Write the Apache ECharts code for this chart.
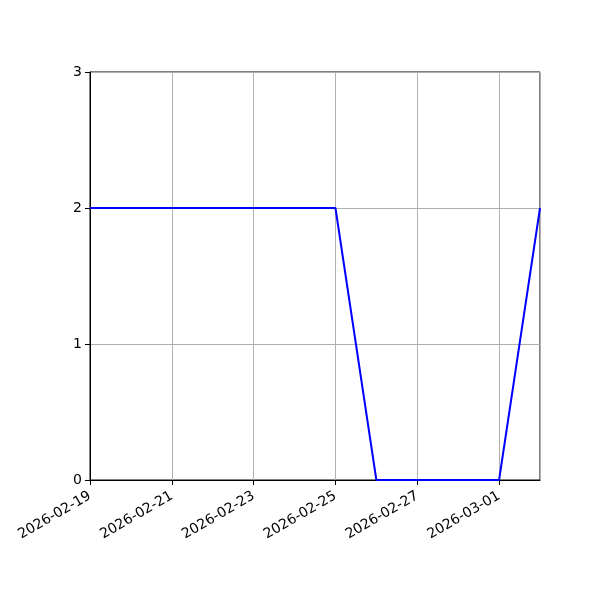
<!DOCTYPE html>
<html><head><meta charset="utf-8">
<script src="https://cdn.jsdelivr.net/npm/echarts@6/dist/echarts.min.js"></script>
<style>html,body{margin:0;padding:0;background:#fff}#c{width:600px;height:600px}</style>
</head><body><div id="c"></div>
<script>
const dates = ['2026-02-19','2026-02-20','2026-02-21','2026-02-22','2026-02-23','2026-02-24','2026-02-25','2026-02-26','2026-02-27','2026-02-28','2026-03-01','2026-03-02'];
const values = [2,2,2,2,2,2,2,0,0,0,0,2];
const yTicks = [0,1,2,3];
const chart = echarts.init(document.getElementById('c'));
const font = 'DejaVu Sans';
chart.setOption({
  animation:false,
  grid:{left:90,right:60,top:72,bottom:120,show:true,borderColor:'#000',borderWidth:1,backgroundColor:'transparent'},
  xAxis:{type:'value',min:0,max:dates.length-1,interval:2,
    axisLine:{show:true,lineStyle:{color:'#000',width:1}},
    axisTick:{show:true,length:5,inside:false,lineStyle:{color:'#000'}},
    axisLabel:{rotate:30,color:'#000',fontFamily:font,fontSize:14,margin:15,
      formatter:v=>dates[Math.round(v)]||'',showMaxLabel:false},
    splitLine:{show:true,lineStyle:{color:'#b0b0b0',width:1}}},
  yAxis:{type:'value',min:0,max:yTicks[yTicks.length-1],interval:1,
    axisLine:{show:true,lineStyle:{color:'#000',width:1}},
    axisTick:{show:true,length:5,lineStyle:{color:'#000'}},
    axisLabel:{color:'#000',fontFamily:font,fontSize:14,margin:8},
    splitLine:{show:true,lineStyle:{color:'#b0b0b0',width:1}}},
  series:[{type:'line',data:values.map((v,i)=>[i,v]),showSymbol:false,
    lineStyle:{color:'#0000ff',width:2},itemStyle:{color:'#0000ff'}}]
});
</script></body></html>
